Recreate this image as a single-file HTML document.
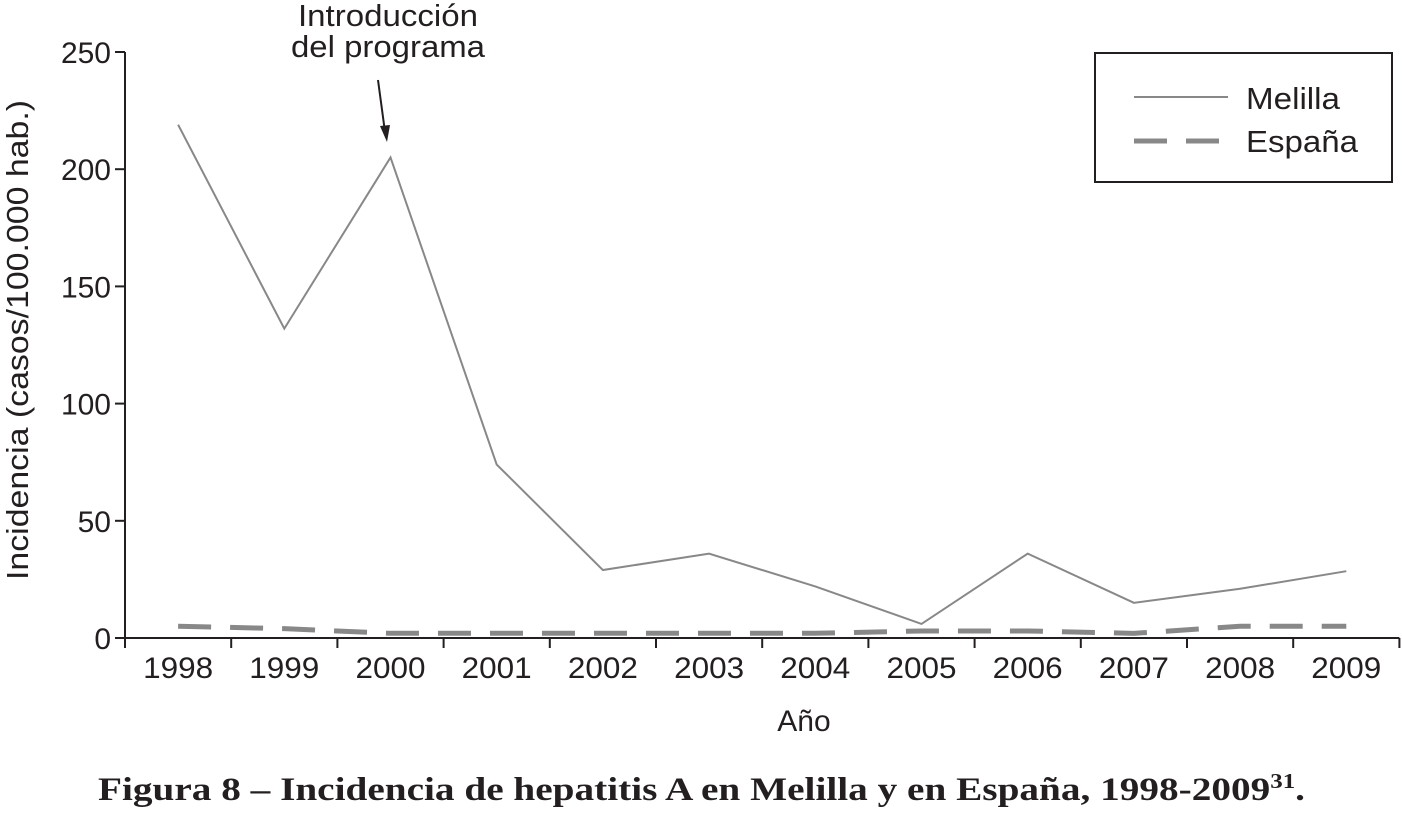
<!DOCTYPE html>
<html><head><meta charset="utf-8"><style>
body{margin:0;background:#fff;width:1402px;height:810px;overflow:hidden}
svg text{font-family:"Liberation Sans",sans-serif;fill:#231f20}
</style></head><body>
<svg id="chart" width="1402" height="810" xmlns="http://www.w3.org/2000/svg">
<g id="axes"></g><g id="series"></g>
<text transform="translate(28,340) rotate(-90)" text-anchor="middle" font-size="31" textLength="480" lengthAdjust="spacingAndGlyphs">Incidencia (casos/100.000 hab.)</text>
<text x="804" y="731" text-anchor="middle" font-size="30">Año</text>
<text x="388" y="26" text-anchor="middle" font-size="31" textLength="180" lengthAdjust="spacingAndGlyphs">Introducción</text>
<text x="388" y="57" text-anchor="middle" font-size="31" textLength="194" lengthAdjust="spacingAndGlyphs">del programa</text>
<line x1="378" y1="80" x2="385" y2="132" stroke="#231f20" stroke-width="2"/>
<polygon points="380,126 390,125 387,142" fill="#231f20"/>
<g>
<rect x="1095" y="53" width="297" height="129" fill="#fff" stroke="#231f20" stroke-width="2"/>
<line x1="1134" y1="97" x2="1228" y2="97" stroke="#888" stroke-width="2"/>
<text x="1246" y="109" font-size="31" textLength="94" lengthAdjust="spacingAndGlyphs">Melilla</text>
<line x1="1134" y1="141" x2="1228" y2="141" stroke="#888" stroke-width="5" stroke-dasharray="33,19"/>
<text x="1246" y="152" font-size="31" textLength="112" lengthAdjust="spacingAndGlyphs">España</text>
</g>
<text x="98" y="800" font-size="33" font-weight="bold" style="font-family:'Liberation Serif',serif" textLength="1207" lengthAdjust="spacingAndGlyphs">Figura 8 – Incidencia de hepatitis A en Melilla y en España, 1998-2009<tspan font-size="21" dy="-12">31</tspan><tspan dy="12">.</tspan></text>
</svg>
<script>
const years=["1998","1999","2000","2001","2002","2003","2004","2005","2006","2007","2008","2009"];
const melilla=[219,132,205,74,29,36,22,6,36,15,21,28.5];
const espana=[5,4,2,2,2,2,2,3,3,2,5,5];
const yTicks=[0,50,100,150,200,250];
const NS="http://www.w3.org/2000/svg";
const x0=125,step=106.2,yBase=638,yTop=52;
const xs=i=>x0+step*(i+0.5);
const ys=v=>yBase-(v/250)*(yBase-yTop);
const ax=document.getElementById('axes'),se=document.getElementById('series');
function mk(tag,attrs,parent){const e=document.createElementNS(NS,tag);for(const k in attrs)e.setAttribute(k,attrs[k]);parent.appendChild(e);return e;}
let l=mk('line',{x1:x0,y1:yTop,x2:x0,y2:yBase+10,stroke:'#231f20','stroke-width':2},ax);


l=mk('line',{x1:x0,y1:yBase,x2:x0+step*12,y2:yBase,stroke:'#231f20','stroke-width':2},ax);


yTicks.forEach(v=>{
 const t=mk('line',{x1:x0-10,y1:ys(v),x2:x0,y2:ys(v),stroke:'#231f20','stroke-width':2},ax);
 
 
 const tx=mk('text',{x:x0-14,y:ys(v)+11,'text-anchor':'end','font-size':30},ax);tx.textContent=v;
 
 
});
years.forEach((y,i)=>{
 const t=mk('line',{x1:x0+step*(i+1),y1:yBase,x2:x0+step*(i+1),y2:yBase+10,stroke:'#231f20','stroke-width':2},ax);
 
 
 const tx=mk('text',{x:xs(i),y:yBase+40,'text-anchor':'middle','font-size':30,textLength:70,lengthAdjust:'spacingAndGlyphs'},ax);tx.textContent=y;
 
 
});
let p=mk('polyline',{points:melilla.map((v,i)=>xs(i)+','+ys(v)).join(' '),fill:'none',stroke:'#888','stroke-width':2},se);


p=mk('polyline',{points:espana.map((v,i)=>xs(i)+','+ys(v)).join(' '),fill:'none',stroke:'#888','stroke-width':5,'stroke-dasharray':'33,19'},se);


</script>
</body></html>
